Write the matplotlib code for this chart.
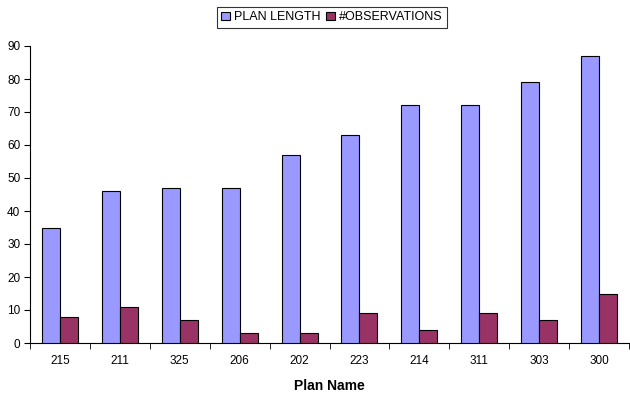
import numpy as np
from matplotlib import pyplot as plt

plt.rcParams['font.family'] = ['Liberation Sans', 'DejaVu Sans']

plans = ['215', '211', '325', '206', '202', '223', '214', '311', '303', '300']
plan_length = [35, 46, 47, 47, 57, 63, 72, 72, 79, 87]
observations = [8, 11, 7, 3, 3, 9, 4, 9, 7, 15]

x = np.arange(len(plans))
w = 0.3

fig = plt.figure(figsize=(6.3, 3.97), dpi=100)
ax = fig.add_axes([30/630, 1-343/397, 599/630, (343-46)/397])

ax.bar(x - w/2, plan_length, w, color='#9999FF', edgecolor='black', linewidth=0.8,
       label='PLAN LENGTH', zorder=3)
ax.bar(x + w/2, observations, w, color='#993366', edgecolor='black', linewidth=0.8,
       label='#OBSERVATIONS', zorder=3)

ax.set_xlim(-0.5, len(plans) - 0.5)
ax.set_ylim(0, 90)
ax.set_yticks(range(0, 91, 10))
ax.set_xticks(x)
ax.set_xticklabels(plans)
ax.set_xticks(np.arange(-0.5, len(plans), 1), minor=True)
ax.tick_params(axis='x', which='major', length=0, pad=9, labelsize=8.5)
ax.tick_params(axis='x', which='minor', length=4, direction='out')
ax.tick_params(axis='y', length=4, direction='out', labelsize=8.5, pad=3)

ax.spines['top'].set_visible(False)
ax.spines['right'].set_visible(False)
ax.set_xlabel('Plan Name', fontsize=10, fontweight='bold', labelpad=8)

leg = ax.legend(loc='upper center', bbox_to_anchor=(0.504, 1.131), ncol=2, fontsize=9,
                frameon=True, fancybox=False, edgecolor='black', handlelength=0.7,
                handleheight=0.7, handletextpad=0.3, columnspacing=0.5,
                borderpad=0.35, borderaxespad=0)
leg.get_frame().set_linewidth(0.8)

plt.savefig('out.png', dpi=100)
